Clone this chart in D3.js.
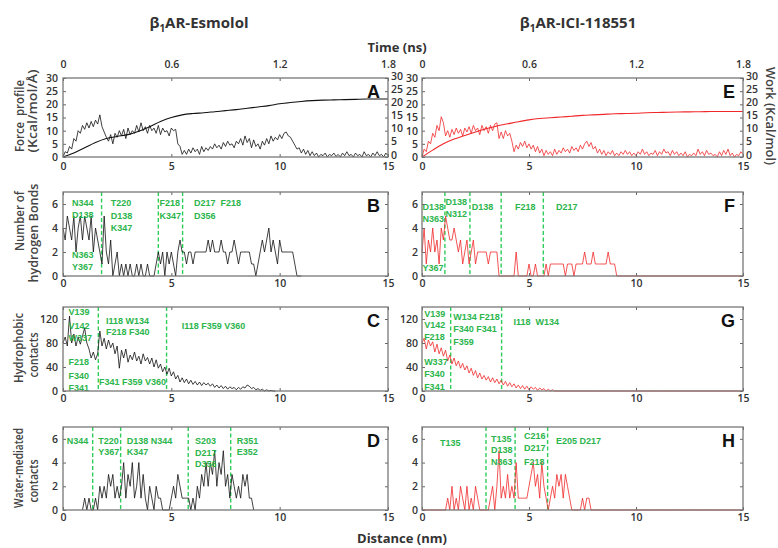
<!DOCTYPE html>
<html>
<head>
<meta charset="utf-8">
<script src="https://cdn.jsdelivr.net/npm/d3@7"></script>
<style>
body { margin: 0; background: #fff; }
svg text { font-family: "Open Sans", Arial, sans-serif; }
</style>
</head>
<body>
<svg width="778" height="548"></svg>
<script>
// ---- data ----
var distTicks = [0, 5, 10, 15];
var timeTicks = [0, 0.6, 1.2, 1.8];
var forceTicks = [0, 5, 10, 15, 20, 25, 30];
var hbTicks = [0, 2, 4, 6];
var hydTicks = [0, 40, 80, 120];
var wmTicks = [0, 2, 4, 6];

// force / work vs distance (nm); force sampled every 0.1 nm, work every 0.5 nm
var esForce = [0,2,1.5,4,3,7,6,10,9,12,
  10.5,13,11,13.5,11.5,14,12.5,16,11.5,9.5,
  7.5,6,8.5,5,9,7.5,10,8,10.5,7,
  11,8.5,10,9,12,9.5,13,10,11.5,9,
  12,10,11,9,12,8.5,11,9.5,10,8,
  11,10,10.5,5,4,1,2.5,1,3,1.5,
  3.5,2,3,1,4,2,3.5,2.5,4,3,
  5,3.5,4.5,3,5.5,4,6,4.5,5,3.5,
  6,5,7,4.5,8,5.5,7,3.5,6.5,4,
  5,3,6,4.5,7,5,8,6,7.5,6.5,
  8.5,7,9,9.5,8,7.5,6,4.5,3,3.5,
  1.5,3,1,2.5,0.5,2,0.5,1.5,0,1,
  0.5,1.5,0,1,0.5,1.5,0.2,1,0,1.5,
  0.5,2,0.5,1,0,1.5,0.5,1,0,2,
  0.5,1,0,1.5,0.5,2,0.5,1,0,1.5,
  0.5];
var esWork = [0,1.5,3.5,5.5,7,7.8,8.5,9.8,11.5,13.5,
  15,16,16.5,16.8,17.2,17.6,18,18.5,19,19.5,
  20.2,20.7,21.1,21.4,21.6,21.7,21.8,21.9,22,22,22];
var iciForce = [0,3,2,6,5,9,7.5,12,10,15.3,
  13,8,10,7.5,10.5,8.5,11,9,10.5,8,
  11,9.5,11.5,9,12,10,11,8.5,12,10,
  11.5,9,12,10,12.5,13,7,9.5,7,10,
  8,9,6,2,4.5,3,5.5,4,6,3.5,
  5,3,4.5,2,4,1.5,3,0.5,2.5,1,
  2,0.5,3,1,2.5,1.5,3.5,2,3,1.5,
  4,2.5,3.5,2,4.5,3,5,6,4,5.5,
  3,4,1.5,3,1,2.5,0.5,2,1,2.5,
  0.5,1.5,0.5,2,1,2.5,1,2,0.5,1.5,
  0.5,2,1,3,1,2,0.5,1.5,1,2.5,
  0.5,2,1,3,1.5,2,0.5,2.5,1,2,
  0.5,1.5,0.5,2,0,1,0.5,1.5,0.5,3,
  1,2,0.5,2.5,1,1.5,0.5,1,0,2,
  0.5,2.5,1,3,0.5,1.5,0,1,0.5,2,
  1];
var iciWork = [0,2.6,5,6.8,8.2,9.5,10.7,11.8,12.6,13.4,
  14.1,14.6,14.9,15.2,15.5,15.8,16,16.2,16.4,16.5,
  16.6,16.8,16.9,17,17.1,17.15,17.2,17.25,17.3,17.3,17.3];

// contact counts, every 0.1 nm from 0
var esHbonds = [4,3,5,4,3,5,2,4,5,3,
  5,4,3,5,2,4,3,2,1,5,
  2,1,3,0,1,2,0,1,0,1,
  0,1,0,0,1,0,1,0,0,1,
  0,0,0,1,2,1,2,0,2,1,
  2,1,0,2,3,2,2,1,2,2,
  1,2,2,2,2,2,2,3,2,3,
  2,2,2,3,2,2,1,2,2,3,
  2,1,2,2,2,2,2,1,1,0,
  1,2,3,2,3,4,2,3,2,1,
  3,2,2,2,2,2,2,1,0,0,
  0];
var iciHbonds = [2,4,1,3,2,4,2,3,1,4,
  3,5,4,3,3,4,3,2,3,1,
  2,3,1,2,3,1,2,2,2,2,
  2,1,2,2,2,2,0,0,0,0,
  0,0,0,0,2,0,0,0,0,0,
  1,0,0,1,0,0,0,0,1,0,
  1,1,1,1,1,1,1,0,1,1,
  1,0,1,1,1,1,2,1,1,1,
  2,1,1,1,1,1,1,2,1,1,
  1,0,0,0,0,0,0,0,0,0,
  0,0,0,0,0,0,0,0,0,0,
  0,0,0,0,0,0,0,0,0,0,
  0,0,0,0,0,0,0,0,0,0,
  0,0,0,0,0,0,0,0,0,0,
  0,0,0,0,0,0,0,0,0,0,
  0];
var esHydro = [80,90,75,125,80,95,75,90,78,92,
  105,80,70,55,65,52,62,100,75,88,
  70,85,72,80,62,75,38,68,55,70,
  48,60,52,65,50,58,45,62,50,56,
  45,55,40,52,38,45,32,40,28,38,
  25,32,20,26,15,22,14,20,12,18,
  11,16,10,15,9,14,10,13,8,12,
  6,10,5,9,4,8,3,7,4,6,
  2,6,3,7,5,10,8,4,6,2,
  4,1,3,0,2,0,1,0,0];
var iciHydro = [80,88,70,85,75,82,65,78,62,72,
  58,68,50,60,45,55,42,50,38,46,
  35,42,30,38,26,34,22,30,20,26,
  18,24,15,22,14,20,12,18,10,16,
  8,14,7,12,5,10,4,9,3,8,
  2,7,3,6,1,5,2,4,0,3,
  0,2,0,0,0,0,0,0,0,0,
  0,0,0,0,0,0,0,0,0,0,
  0,0,0,0,0,0,0,0,0,0,
  0,0,0,0,0,0,0,0,0,0,
  0,0,0,0,0,0,0,0,0,0,
  0,0,0,0,0,0,0,0,0,0,
  0,0,0,0,0,0,0,0,0,0,
  0,0,0,0,0,0,0,0,0,0,
  0,0,0,0,0,0,0,0,0,0,
  0];
var esWater = [null,null,null,null,null,null,null,null,null,0,
  1,0,1,0,0,1,0,2,1,2,
  1,3,2,3,1,2,1,2,4,1,
  3,2,4,1,2,4,1,3,1,0,
  2,1,0,2,1,1,0,0,0,0,
  1,2,1,3,2,1,1,1,1,0,
  1,0,2,1,3,2,4,2,4,3,
  5,2,4,3,5,2,3,1,3,2,
  1,2,1,3,2,3,1,1,0];
var iciWater = [0,0,0,0,0,0,0,0,0,0,
  0,0,1,0,2,0,1,0,2,1,
  0,2,0,1,0,2,1,0,0,0,
  0,0,1,2,0,2,5,1,2,1,
  3,1,2,1,4,1,1,1,1,1,
  2,3,4,2,3,1,4,2,1,0,
  1,2,1,3,2,3,1,3,2,1,
  0,0,0,0,0,1,0,1,1,0,
  0,0,0,0,0,0,0,0,0,0,
  0,0,0,0,0,0,0,0,0,0,
  0,0,0,0,0,0,0,0,0,0,
  0,0,0,0,0,0,0,0,0,0,
  0,0,0,0,0,0,0,0,0,0,
  0,0,0,0,0,0,0,0,0,0,
  0,0,0,0,0,0,0,0,0,0,
  0];

// binding-site boundaries (nm)
var esHbSites = [1.78, 4.4, 5.52];
var esHydSites = [1.63, 4.78];
var esWaterSites = [1.37, 2.66, 5.78, 7.74];
var iciHbSites = [1.07, 2.24, 3.7, 5.67];
var iciHydSites = [1.34, 3.72];
var iciWaterSites = [2.99, 4.35, 5.87];

// ---- layout ----
var svg = d3.select("svg");
var colX = [[63, 388], [422, 743]];
var rowY = [[78, 157], [192, 276], [307, 391], [427, 510]];
var black = "#111", red = "#f0282a", green = "#2bb54c", dashGreen = "#2ecc5a";

var panels = [
  {id: "A", col: 0, row: 0, ymax: 30, ticks: forceTicks, dashes: [],
   series: [{v: esForce, step: 0.1, c: black, w: 0.8}, {v: esWork, step: 0.5, c: black, w: 1.1, smooth: true}], notes: []},
  {id: "E", col: 1, row: 0, ymax: 30, ticks: forceTicks, dashes: [],
   series: [{v: iciForce, step: 0.1, c: red, w: 0.8}, {v: iciWork, step: 0.5, c: red, w: 1.1, smooth: true}], notes: []},
  {id: "B", col: 0, row: 1, ymax: 7, ticks: hbTicks, dashes: esHbSites,
   series: [{v: esHbonds, step: 0.1, c: black, w: 0.8}],
   notes: [["N344", 0.42, 6.1], ["D138", 0.42, 5.1], ["N363", 0.42, 1.8], ["Y367", 0.42, 0.75],
           ["T220", 2.2, 6.1], ["D138", 2.2, 5.0], ["K347", 2.2, 4.0],
           ["F218", 4.45, 6.1], ["K347", 4.45, 5.0], ["D217  F218", 6.05, 6.1], ["D356", 6.05, 5.0]]},
  {id: "F", col: 1, row: 1, ymax: 7, ticks: hbTicks, dashes: iciHbSites,
   series: [{v: iciHbonds, step: 0.1, c: red, w: 0.8}],
   notes: [["D138", 0.02, 5.8], ["N363", 0.02, 4.8], ["Y367", 0.02, 0.7],
           ["D138", 1.1, 6.2], ["N312", 1.1, 5.2], ["D138", 2.32, 5.8], ["F218", 4.35, 5.8], ["D217", 6.26, 5.8]]},
  {id: "C", col: 0, row: 2, ymax: 140, ticks: hydTicks, dashes: esHydSites,
   series: [{v: esHydro, step: 0.1, c: black, w: 0.8}],
   notes: [["V139", 0.25, 132], ["V142", 0.25, 108], ["W337", 0.25, 88], ["F218", 0.25, 48], ["F340", 0.25, 25], ["F341", 0.25, 5],
           ["I118 W134", 1.98, 117], ["F218 F340", 1.98, 98], ["F341 F359 V360", 1.66, 15.5], ["I118 F359 V360", 5.48, 109]]},
  {id: "G", col: 1, row: 2, ymax: 140, ticks: hydTicks, dashes: iciHydSites,
   series: [{v: iciHydro, step: 0.1, c: red, w: 0.8}],
   notes: [["V139", 0.1, 129], ["V142", 0.1, 110], ["F218", 0.1, 89.5], ["W337", 0.1, 49], ["F340", 0.1, 28], ["F341", 0.1, 7],
           ["W134 F218", 1.46, 124], ["F340 F341", 1.46, 103], ["F359", 1.46, 82], ["I118  W134", 4.27, 114.5]]},
  {id: "D", col: 0, row: 3, ymax: 7, ticks: wmTicks, dashes: esWaterSites,
   series: [{v: esWater, step: 0.1, c: black, w: 0.8}],
   notes: [["N344", 0.17, 5.85], ["T220", 1.63, 5.85], ["Y367", 1.63, 4.9], ["D138 N344", 2.94, 5.85], ["K347", 2.94, 4.9],
           ["S203", 6.09, 5.85], ["D217", 6.09, 4.8], ["D356", 6.09, 3.9], ["R351", 8.02, 5.85], ["E352", 8.02, 4.9]]},
  {id: "H", col: 1, row: 3, ymax: 7, ticks: wmTicks, dashes: iciWaterSites,
   series: [{v: iciWater, step: 0.1, c: red, w: 0.8}],
   notes: [["T135", 0.84, 5.7], ["T135", 3.22, 6.0], ["D138", 3.22, 5.1], ["N363", 3.22, 4.05],
           ["C216", 4.77, 6.25], ["D217", 4.77, 5.2], ["F218", 4.77, 4.1], ["E205 D217", 6.26, 5.8]]}
];

var plain = function(d) { return d; };

function styleAxis(a) {
  a.select(".domain").remove();
  a.selectAll("line").attr("stroke", "#666");
  a.selectAll("text").attr("fill", "#333").style("font-size", "10.5px").style("font-weight", 600);
}

panels.forEach(function(p) {
  var x = d3.scaleLinear().domain([0, 15]).range(colX[p.col]);
  var y = d3.scaleLinear().domain([0, p.ymax]).range([rowY[p.row][1], rowY[p.row][0]]);
  var x0 = colX[p.col][0], x1 = colX[p.col][1], yt = rowY[p.row][0], yb = rowY[p.row][1];
  var g = svg.append("g");

  // site boundaries
  p.dashes.forEach(function(d) {
    g.append("line").attr("x1", x(d)).attr("x2", x(d)).attr("y1", yt).attr("y2", yb)
      .attr("stroke", dashGreen).attr("stroke-width", 1.4).attr("stroke-dasharray", "4,2.5");
  });

  p.series.forEach(function(s) {
    var line = d3.line()
      .defined(function(d) { return d != null; })
      .x(function(d, i) { return x(i * s.step); })
      .y(function(d) { return y(d); });
    if (s.smooth) line.curve(d3.curveMonotoneX);
    g.append("path").attr("d", line(s.v)).attr("fill", "none")
      .attr("stroke", s.c).attr("stroke-width", s.w).attr("stroke-linejoin", "round");
  });

  p.notes.forEach(function(n) {
    g.append("text").attr("x", x(n[1])).attr("y", y(n[2])).attr("dy", "0.35em")
      .attr("fill", green).style("font-family", "'Liberation Sans', Arial, sans-serif")
      .style("font-size", "9px").style("font-weight", "bold").style("white-space", "pre")
      .text(n[0]);
  });

  // axes, ticks pointing inwards
  g.append("g").attr("transform", "translate(0," + yb + ")")
    .call(d3.axisBottom(x).tickValues(distTicks).tickFormat(plain).tickSize(-3).tickPadding(p.row == 0 ? 6 : 4)).call(styleAxis);
  g.append("g").attr("transform", "translate(" + x0 + ",0)")
    .call(d3.axisLeft(y).tickValues(p.ticks).tickFormat(plain).tickSize(-3).tickPadding(p.col == 0 ? 5 : 4)).call(styleAxis);
  var right = g.append("g").attr("transform", "translate(" + x1 + ",0)")
    .call(d3.axisRight(y).tickValues(p.ticks).tickSize(-3).tickPadding(3).tickFormat(p.row == 0 ? plain : "")).call(styleAxis);
  if (p.row == 0) {
    // work-axis labels sit slightly high, clear of the distance labels below
    right.selectAll("text").attr("dy", "0.1em");
    var xt = d3.scaleLinear().domain([0, 1.8]).range(colX[p.col]);
    g.append("g").attr("transform", "translate(0," + yt + ")")
      .call(d3.axisTop(xt).tickValues(timeTicks).tickFormat(plain).tickSize(-3).tickPadding(10)).call(styleAxis);
  } else {
    g.append("g").attr("transform", "translate(0," + yt + ")")
      .call(d3.axisTop(x).tickValues(distTicks).tickSize(-3).tickFormat("")).call(styleAxis);
  }

  g.append("rect").attr("x", x0).attr("y", yt).attr("width", x1 - x0).attr("height", yb - yt)
    .attr("fill", "none").attr("stroke", "#777").attr("stroke-width", 1.3);

  g.append("text").attr("x", x1 - 8).attr("y", yt + 14).attr("dy", "0.35em").attr("text-anchor", "end")
    .style("font-family", "'Liberation Sans', Arial, sans-serif").style("font-size", "18px").style("font-weight", "bold")
    .attr("fill", "#111").text(p.id);
});

// titles
function title(txt, cx, cy) {
  var t = svg.append("text").attr("x", cx).attr("y", cy).attr("dy", "0.35em").attr("text-anchor", "middle")
    .style("font-size", "15px").style("font-weight", "bold").attr("fill", "#333");
  t.append("tspan").text("\u03b2");
  t.append("tspan").attr("dy", 4).style("font-size", "10px").text("1");
  t.append("tspan").attr("dy", -4).text(txt);
}
title("AR-Esmolol", 199, 23);
title("AR-ICI-118551", 578, 23);

function axisTitle(txt, cx, cy, rot, len) {
  svg.append("text").attr("transform", "translate(" + cx + "," + cy + ") rotate(" + rot + ")")
    .attr("dy", "0.35em").attr("text-anchor", "middle").attr("textLength", len).attr("lengthAdjust", "spacingAndGlyphs")
    .style("font-size", "12px").style("font-weight", 600).style("white-space", "pre").attr("fill", "#444").text(txt);
}
axisTitle("Force  profile", 20, 116, -90, 72);
axisTitle("(Kcal/mol/\u00c5)", 33, 111, -90, 83);
axisTitle("Number of", 20, 221, -90, 60);
axisTitle("hydrogen Bonds", 34, 233, -90, 99);
axisTitle("Hydrophobic", 19, 348, -90, 70);
axisTitle("contacts", 34, 355, -90, 45);
axisTitle("Water-mediated", 19, 468, -90, 80);
axisTitle("contacts", 34, 481, -90, 43);
axisTitle("Work (Kcal/mol)", 770, 116, 90, 98);

svg.append("text").attr("x", 397).attr("y", 47).attr("dy", "0.35em").attr("text-anchor", "middle")
  .style("font-size", "13px").style("font-weight", "bold").attr("fill", "#333").text("Time (ns)");
svg.append("text").attr("x", 402).attr("y", 538).attr("dy", "0.35em").attr("text-anchor", "middle")
  .style("font-size", "13px").style("font-weight", "bold").attr("fill", "#333").text("Distance (nm)");
</script>
</body>
</html>
